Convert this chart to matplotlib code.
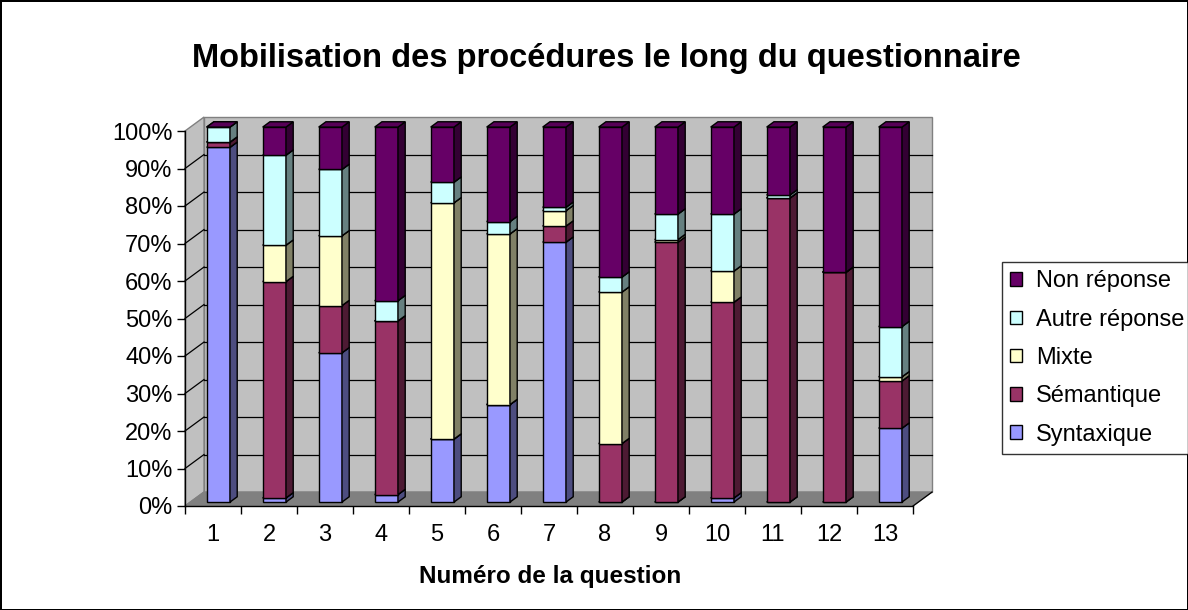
import numpy as np
import matplotlib.pyplot as plt
from matplotlib.patches import Polygon, Patch

plt.rcParams['font.family'] = ['Liberation Sans', 'DejaVu Sans']

questions = [str(i) for i in range(1, 14)]
syntaxique = [94.6, 1.1, 39.8, 2.0, 16.8, 26.0, 69.3, 0.0, 0.0, 1.1, 0.0, 0.0, 19.7]
semantique = [1.4, 57.7, 12.6, 46.3, 0.0, 0.0, 4.3, 15.6, 69.3, 52.2, 81.1, 61.3, 12.6]
mixte = [0.0, 9.7, 18.6, 0.0, 63.0, 45.5, 4.1, 40.4, 0.7, 8.3, 0.0, 0.0, 1.1]
autre = [4.0, 24.0, 17.7, 5.4, 5.5, 3.3, 0.9, 4.0, 6.8, 15.2, 0.8, 0.0, 13.4]
non_reponse = [0.0, 7.5, 11.3, 46.3, 14.7, 25.2, 21.4, 40.0, 23.2, 23.2, 18.1, 38.7, 53.2]

series = [
    ('Syntaxique', syntaxique, '#9999FF'),
    ('Sémantique', semantique, '#993366'),
    ('Mixte', mixte, '#FFFFCC'),
    ('Autre réponse', autre, '#CCFFFF'),
    ('Non réponse', non_reponse, '#660066'),
]

# oblique depth of the box, in data units
DX, DY = 0.34, 3.73
# bar sits between these depth fractions
F0, F1 = 0.28, 0.66
HALF = 0.208


def shade(c, k):
    c = np.array(plt.matplotlib.colors.to_rgb(c))
    return tuple(c * k)


fig = plt.figure(figsize=(11.88, 6.10), dpi=100)
fig.patch.set_edgecolor('black')
fig.patch.set_linewidth(2)

W, H = 1188, 610
ax = fig.add_axes([185 / W, (H - 506) / H, (913 - 185) / W, (506 - 131) / H])
n = len(questions)
x0, x1 = 0.5, n + 0.5
ax.set_xlim(x0, x1)
ax.set_ylim(0, 100)
ax.patch.set_visible(False)

# walls and floor
back = Polygon([(x0 + DX, DY), (x1 + DX, DY), (x1 + DX, 100 + DY), (x0 + DX, 100 + DY)],
               closed=True, facecolor='#C0C0C0', edgecolor='#808080', lw=1, clip_on=False, zorder=0)
side = Polygon([(x0, 0), (x0 + DX, DY), (x0 + DX, 100 + DY), (x0, 100)],
               closed=True, facecolor='#C0C0C0', edgecolor='#808080', lw=1, clip_on=False, zorder=0)
floor = Polygon([(x0, 0), (x1, 0), (x1 + DX, DY), (x0 + DX, DY)],
                closed=True, facecolor='#808080', edgecolor='#808080', lw=1, clip_on=False, zorder=0)
for p in (back, side, floor):
    ax.add_patch(p)
for v in range(10, 100, 10):
    ax.plot([x0 + DX, x1 + DX], [v + DY, v + DY], color='black', lw=0.9, clip_on=False, zorder=1)
    ax.plot([x0, x0 + DX], [v, v + DY], color='black', lw=0.9, clip_on=False, zorder=1)
ax.plot([x1, x1 + DX], [0, DY], color='black', lw=0.9, clip_on=False, zorder=1)

# stacked columns
for i in range(n):
    xc = i + 1
    xl = xc - HALF + F0 * DX
    xr = xc + HALF + F0 * DX
    dx = (F1 - F0) * DX
    dy = (F1 - F0) * DY
    base = F0 * DY
    for name, vals, col in series:
        top = base + vals[i]
        kw = dict(closed=True, edgecolor='black', lw=1, clip_on=False, zorder=3)
        ax.add_patch(Polygon([(xl, base), (xr, base), (xr, top), (xl, top)], facecolor=col, **kw))
        ax.add_patch(Polygon([(xr, base), (xr + dx, base + dy), (xr + dx, top + dy), (xr, top)],
                             facecolor=shade(col, 0.5), **kw))
        ax.add_patch(Polygon([(xl, top), (xr, top), (xr + dx, top + dy), (xl + dx, top + dy)],
                             facecolor=shade(col, 0.85), **kw))
        base = top

# axes
for s in ('top', 'right'):
    ax.spines[s].set_visible(False)
ax.spines['left'].set_linewidth(1)
ax.spines['bottom'].set_linewidth(1)
ax.set_yticks(range(0, 101, 10))
ax.set_yticklabels([f'{v}%' for v in range(0, 101, 10)], fontsize=17)
ax.tick_params(axis='y', length=6, width=1, pad=3)
ax.set_xticks(range(1, n + 1))
ax.set_xticklabels(questions, fontsize=17)
ax.set_xticks(np.arange(x0, x1 + 0.01, 1), minor=True)
ax.tick_params(axis='x', which='major', length=0, pad=13)
ax.tick_params(axis='x', which='minor', length=6, width=1)

fig.text(550 / W, 1 - 576 / H, 'Numéro de la question', ha='center', va='center',
         fontsize=17.5, fontweight='bold')
fig.text(606 / W, 1 - 58 / H, 'Mobilisation des procédures le long du questionnaire',
         ha='center', va='center', fontsize=23.5, fontweight='bold')

handles = [Patch(facecolor=c, edgecolor='black', label=nm) for nm, _, c in series[::-1]]
leg = fig.legend(handles=handles, loc='center left', bbox_to_anchor=(1002 / W, 1 - 358 / H),
                 fontsize=17, frameon=True, fancybox=False, edgecolor='black',
                 handlelength=0.5, handleheight=0.5, handletextpad=0.6, labelspacing=0.69,
                 borderpad=0.35, borderaxespad=0)
leg.get_frame().set_linewidth(1)

fig.savefig('out.png', dpi=100)
